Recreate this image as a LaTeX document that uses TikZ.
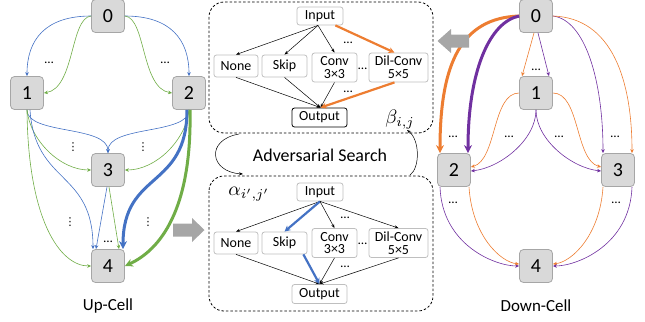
\documentclass[tikz,border=0pt]{standalone}
\usepackage{fontspec}
\setmainfont{Carlito}
\newfontfamily\dejavu{DejaVu Sans}
\usetikzlibrary{arrows.meta}
\definecolor{blueE}{HTML}{4472C4}
\definecolor{greenE}{HTML}{70AD47}
\definecolor{orangeE}{HTML}{ED7D31}
\definecolor{purpleE}{HTML}{7030A0}
\definecolor{arrowgray}{HTML}{A6A6A6}
\definecolor{cellfill}{HTML}{D9D9D9}
\definecolor{cellline}{HTML}{A6A6A6}
\definecolor{opline}{HTML}{BFBFBF}
\tikzset{
  cellbox/.style={draw=cellline, fill=cellfill, rounded corners=4bp, minimum width=33bp, minimum height=33bp, inner sep=0pt, line width=0.8bp, font=\fontsize{20}{20}\selectfont},
  opbox/.style={draw=opline, rounded corners=2.5bp, inner sep=0.5bp, line width=0.8bp, align=center, font=\fontsize{14}{13}\selectfont},
  thin tip/.style={-{Stealth[length=4bp,width=3.5bp]}},
  thick tip/.style={-{Stealth[length=8bp,width=8bp]}},
  be/.style={draw=blueE, line width=0.6bp, thin tip},
  ge/.style={draw=greenE, line width=0.6bp, thin tip},
  oe/.style={draw=orangeE, line width=0.6bp, thin tip},
  pe/.style={draw=purpleE, line width=0.6bp, thin tip},
  bigb/.style={draw=blueE, line width=3bp, thick tip},
  bigg/.style={draw=greenE, line width=3bp, thick tip},
  bigo/.style={draw=orangeE, line width=3bp, thick tip},
  bigp/.style={draw=purpleE, line width=3bp, thick tip},
  opedge/.style={draw=black, line width=0.5bp, -{Stealth[length=4bp,width=3bp]}},
  opbig/.style={line width=2.2bp, -{Stealth[length=6bp,width=6bp]}},
  searchbox/.style={draw=black, line width=0.8bp, dash pattern=on 2.5bp off 2bp, rounded corners=15bp},
  dotlbl/.style={font=\fontsize{13}{13}\selectfont, inner sep=0pt},
  vdotlbl/.style={font=\dejavu\fontsize{11}{11}\selectfont, inner sep=0pt},
  celllbl/.style={font=\fontsize{17}{17}\selectfont, inner sep=0pt},
  mathlbl/.style={inner sep=0pt},
}
\begin{document}
\begin{tikzpicture}[x=1bp,y=1bp]
\useasboundingbox (0,0) rectangle (645,-321);

% ---------------- Up-Cell ----------------
\node[cellbox] (u0) at (108,-16) {0};
\node[cellbox] (u1) at (27,-93) {1};
\node[cellbox] (u2) at (189,-93) {2};
\node[cellbox] (u3) at (108,-170) {3};
\node[cellbox] (u4) at (108,-266) {4};
\node[celllbl] (uplbl) at (108,-306) {Up-Cell};

\draw[be] (u0.west) .. controls (45,-16) and (27,-40) .. (u1.north);
\draw[ge] (u0.west) .. controls (70,-18) and (75,-88) .. (u1.east);
\draw[be] (u0.east) .. controls (171,-16) and (189,-40) .. (u2.north);
\draw[ge] (u0.east) .. controls (146,-18) and (141,-88) .. (u2.west);

\draw[be] (u1.south) .. controls (27,-135) and (108,-125) .. (u3.north);
\draw[be] (u2.south) .. controls (189,-135) and (108,-125) .. (u3.north);
\draw[ge] (u1.south) .. controls (30,-140) and (60,-170) .. (u3.west);
\draw[ge] (u2.south) .. controls (186,-140) and (156,-170) .. (u3.east);

\draw[be] ([xshift=3bp]u1.south) .. controls (35,-185) and (93,-170) .. ([xshift=-15bp]u4.north);
\draw[ge] (u1.south) .. controls (28,-220) and (60,-266) .. (u4.west);
\draw[be] ([xshift=-1bp]u3.south) -- ([xshift=-12bp]u4.north);
\draw[ge] ([xshift=1bp]u3.south) -- ([xshift=11bp]u4.north);
\draw[bigb] ([xshift=-2bp]u2.south) .. controls (187,-190) and (123,-170) .. ([xshift=15bp]u4.north);
\draw[bigg] ([xshift=1bp]u2.south) .. controls (192,-210) and (160,-250) .. (u4.east);

\node[dotlbl] (ud1) at (49,-63) {…};
\node[dotlbl] (ud2) at (165,-63) {…};
\node[vdotlbl] (ud3) at (73,-147) {⋮};
\node[vdotlbl] (ud4) at (143,-147) {⋮};
\node[vdotlbl] (ud5) at (70,-222) {⋮};
\node[vdotlbl] (ud6) at (148,-222) {⋮};
\node[dotlbl] (ud7) at (108,-242) {…};

% ---------------- Down-Cell ----------------
\node[cellbox] (d0) at (536,-16) {0};
\node[cellbox] (d1) at (536,-93) {1};
\node[cellbox] (d2) at (454,-170) {2};
\node[cellbox] (d3) at (618,-170) {3};
\node[cellbox] (d4) at (536,-266) {4};
\node[celllbl] (downlbl) at (536,-306) {Down-Cell};

\draw[bigo] (d0.west) .. controls (462,-18) and (440,-62) .. ([xshift=-14bp]d2.north);
\draw[bigp] (d0.west) .. controls (490,-22) and (468,-70) .. ([xshift=14bp]d2.north);
\draw[oe] ([xshift=-2bp]d0.south) -- ([xshift=-14bp]d1.north);
\draw[pe] ([xshift=2bp]d0.south) -- ([xshift=13bp]d1.north);
\draw[pe] (d0.east) .. controls (585,-20) and (603,-80) .. ([xshift=-15bp]d3.north);
\draw[oe] (d0.east) .. controls (612,-18) and (632,-80) .. ([xshift=14bp]d3.north);

\draw[oe] (d1.west) .. controls (492,-93) and (497,-160) .. ([yshift=3bp]d2.east);
\draw[pe] (d1.south) .. controls (536,-140) and (500,-168) .. ([yshift=-1bp]d2.east);
\draw[pe] (d1.south) .. controls (536,-140) and (572,-168) .. ([yshift=-1bp]d3.west);
\draw[oe] (d1.east) .. controls (580,-93) and (575,-160) .. ([yshift=3bp]d3.west);

\draw[pe] ([xshift=-14bp]d2.south) .. controls (442,-245) and (495,-266) .. (d4.west);
\draw[oe] ([xshift=15bp]d2.south) .. controls (472,-235) and (500,-262) .. ([yshift=2bp]d4.west);
\draw[oe] ([xshift=-15bp]d3.south) .. controls (600,-235) and (572,-262) .. ([yshift=2bp]d4.east);
\draw[pe] ([xshift=14bp]d3.south) .. controls (630,-245) and (577,-266) .. (d4.east);

\node[dotlbl] (dd1) at (536,-70) {…};
\node[dotlbl] (dd2) at (453,-137) {…};
\node[dotlbl] (dd3) at (509,-137) {…};
\node[dotlbl] (dd4) at (559,-137) {…};
\node[dotlbl] (dd5) at (615,-137) {…};
\node[dotlbl] (dd6) at (453,-203) {…};
\node[dotlbl] (dd7) at (616,-203) {…};

% ---------------- Middle ----------------
\draw[searchbox] (209,-2) rectangle (433,-133);
\draw[searchbox] (209,-176) rectangle (433,-311);

% top search space
\node[opbox, minimum width=46bp, minimum height=18bp] (in1) at (320,-16) {Input};
\node[opbox, minimum width=44bp, minimum height=22bp] (none1) at (236,-66) {None};
\node[opbox, minimum width=45bp, minimum height=22bp] (skip1) at (284.5,-66) {Skip};
\node[opbox, minimum width=45bp, minimum height=29bp] (conv1) at (334.5,-67.5) {Conv\\3×3};
\node[opbox, minimum width=59bp, minimum height=29bp] (dil1) at (398.5,-67.5) {Dil-Conv\\5×5};
\node[opbox, draw=black, minimum width=55bp, minimum height=19bp] (out1) at (319.5,-117.5) {Output};
\node[dotlbl] (md1) at (348,-43) {…};
\node[dotlbl] (md2) at (362.5,-69) {…};
\node[dotlbl] (md3) at (348,-92) {…};
\node[mathlbl] (beta) at (400,-120) {\scalebox{1.95}{$\beta_{i,j}$}};

\draw[opedge] ([xshift=-2bp]in1.south) -- (none1.north);
\draw[opedge] ([xshift=-2bp]in1.south) -- (skip1.north);
\draw[opedge] ([xshift=-2bp]in1.south) -- (conv1.north);
\draw[opbig, draw=orangeE] (in1.south east) ++(-8bp,0) coordinate (ino) -- ([xshift=-4bp]dil1.north);
\draw[opedge] (none1.south) -- ([xshift=1bp]out1.north);
\draw[opedge] (skip1.south) -- ([xshift=1bp]out1.north);
\draw[opedge] (conv1.south) -- ([xshift=1bp]out1.north);
\draw[opbig, draw=orangeE] ([xshift=-4bp]dil1.south) -- ([xshift=1bp]out1.north);

% adversarial search
\node[inner sep=0pt, font=\fontsize{18}{18}\selectfont] (adv) at (320,-155) {Adversarial Search};
\coordinate (advl1) at (239,-134);
\coordinate (advl2) at (243,-174);
\coordinate (advr1) at (410,-175);
\coordinate (advr2) at (407,-130);
\draw[opedge] (advl1) .. controls (205,-140) and (210,-172) .. (advl2);
\draw[opedge] (advr1) .. controls (420,-168) and (420,-140) .. (advr2);

% bottom search space
\node[opbox, minimum width=46bp, minimum height=18bp] (in2) at (320,-192) {Input};
\node[opbox, minimum width=44bp, minimum height=22bp] (none2) at (236,-243) {None};
\node[opbox, minimum width=45bp, minimum height=22bp] (skip2) at (284.5,-243) {Skip};
\node[opbox, minimum width=45bp, minimum height=29bp] (conv2) at (334.5,-243) {Conv\\3×3};
\node[opbox, minimum width=59bp, minimum height=29bp] (dil2) at (398.5,-243) {Dil-Conv\\5×5};
\node[opbox, minimum width=55bp, minimum height=19bp] (out2) at (319.5,-294) {Output};
\node[dotlbl] (md4) at (345,-218) {…};
\node[dotlbl] (md5) at (362.5,-244) {…};
\node[dotlbl] (md6) at (345,-267) {…};
\node[mathlbl] (alpha) at (249,-194) {\scalebox{1.95}{$\alpha_{i',j'}$}};

\draw[opedge] (in2.south) -- (none2.north);
\draw[opbig, draw=blueE] (in2.south) -- (skip2.north);
\draw[opedge] (in2.south) -- (conv2.north);
\draw[opedge] (in2.south) -- (dil2.north);
\draw[opedge] (none2.south) -- (out2.north);
\draw[opbig, draw=blueE] ([xshift=-4bp]skip2.south east) -- (out2.north);
\draw[opedge] (conv2.south) -- (out2.north);
\draw[opedge] (dil2.south) -- (out2.north);

% gray block arrows
\fill[arrowgray] (173,-223.5) -- (192,-223.5) -- (192,-218) -- (204.5,-230) -- (192,-242) -- (192,-236.5) -- (173,-236.5) -- cycle;
\fill[arrowgray] (469,-34.5) -- (451,-34.5) -- (451,-29) -- (437.5,-41) -- (451,-53) -- (451,-47.5) -- (469,-47.5) -- cycle;
\end{tikzpicture}
\end{document}
